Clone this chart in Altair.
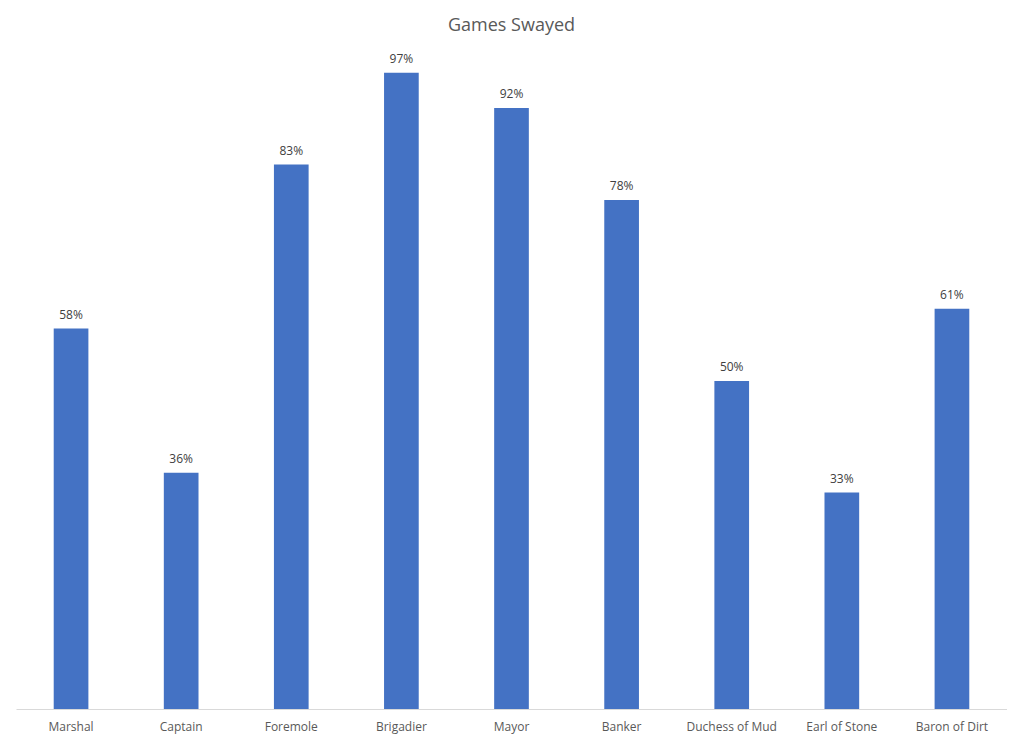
import altair as alt
import pandas as pd

categories = ["Marshal", "Captain", "Foremole", "Brigadier", "Mayor", "Banker",
              "Duchess of Mud", "Earl of Stone", "Baron of Dirt"]
values = [0.58, 0.36, 0.83, 0.97, 0.916, 0.776, 0.50, 0.33, 0.61]

df = pd.DataFrame({"role": categories, "value": values})
FONT = "Open Sans"

base = alt.Chart(df).encode(
    x=alt.X("role:N", sort=categories,
            scale=alt.Scale(paddingInner=0.685, paddingOuter=0.3425),
            axis=alt.Axis(title=None, labelAngle=0, ticks=False, domainColor="#d9d9d9",
                          domainWidth=1, labelFont=FONT, labelFontSize=12,
                          labelColor="#595959", labelPadding=12, grid=False)),
    y=alt.Y("value:Q", scale=alt.Scale(domain=[0, 1], nice=False),
            axis=None),
)

bars = base.mark_bar(color="#4472C4")
labels = base.mark_text(dy=-14, font=FONT, fontSize=12, color="#404040").encode(
    text=alt.Text("value:Q", format=".0%"))

chart = (bars + labels).properties(
    width=991, height=656,
    title=alt.TitleParams("Games Swayed", font=FONT, fontSize=18, fontWeight="normal",
                          color="#595959", offset=18),
    padding={"left": 8, "top": 45, "right": 0, "bottom": 26},
    autosize=alt.AutoSizeParams(type="none"),
).configure_view(stroke=None)

chart.save("out.html", embed_options={"renderer": "svg", "actions": False})
